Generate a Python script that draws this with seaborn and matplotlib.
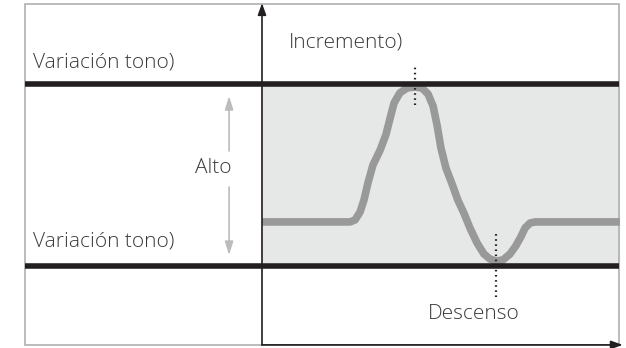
import numpy as np
import pandas as pd
import seaborn as sns
import matplotlib.pyplot as plt
from matplotlib.patches import Rectangle

# pitch curve (time 0..100, level: low line = 0, high line = 100)
time = [0, 24.6, 26.0, 27.4, 28.5, 29.6, 31.0, 33.0, 34.6, 35.8, 36.9, 38.5, 40.5,
        42.7, 44.7, 46.4, 47.8, 48.9, 50.0, 51.4, 53.1, 54.7, 56.4, 58.1, 60.1,
        62.0, 63.7, 65.4, 67.3, 69.3, 70.9, 72.3, 73.5, 74.9, 76.3, 100]
level = [24.2, 24.2, 25.3, 29.7, 36.3, 45.6, 55.5, 63.7, 72.0, 81.3, 89.6, 95.1, 97.8,
         98.4, 97.8, 94.5, 87.9, 77.5, 64.8, 53.8, 45.1, 36.3, 29.1, 20.9, 12.6,
         6.6, 3.8, 2.7, 3.3, 6.6, 11.0, 15.9, 20.9, 23.6, 24.2, 24.2]
low_line = 0
high_line = 100
peak_time = 42.7
dip_time = 65.4

label_band = "Variación tono)"
label_high = "Alto"
label_up = "Incremento)"
label_down = "Descenso"

df = pd.DataFrame({"time": time, "level": level})

sns.set_style("white")
plt.rcParams['font.family'] = ['Open Sans', 'DejaVu Sans']

fig = plt.figure(figsize=(6.26, 3.48), dpi=100)
ax = fig.add_axes([0, 0, 1, 1])
ax.set_xlim(-73.2, 101.7)
ax.set_ylim(-45.1, 146.2)
ax.axis("off")

x_left, x_right = -66.2, 99.7
y_bot, y_top = -43.4, 144.0

# outer frame
ax.add_patch(Rectangle((x_left, y_bot), x_right - x_left, y_top - y_bot,
                       fill=False, edgecolor="#b0b0b0", lw=1.2, zorder=1))

# shaded band
ax.fill_between([0, x_right], low_line, high_line, color="#e6e7e7", zorder=0)

# pitch curve
sns.lineplot(data=df, x="time", y="level", ax=ax, sort=False, estimator=None,
             color="#999999", lw=5.5, zorder=3)
ax.lines[-1].set_solid_joinstyle("round")
ax.lines[-1].set_solid_capstyle("butt")

# threshold lines
for yv in (low_line, high_line):
    ax.plot([x_left, x_right], [yv, yv], color="#231f20", lw=4, zorder=4,
            solid_capstyle="butt")

# axes arrows
ax.annotate("", xy=(0, y_top + 0.5), xytext=(0, y_bot),
            arrowprops=dict(arrowstyle="-|>,head_length=0.7,head_width=0.25",
                            color="#231f20", lw=1.2, shrinkA=0, shrinkB=0), zorder=5)
ax.annotate("", xy=(100.8, y_bot), xytext=(0, y_bot),
            arrowprops=dict(arrowstyle="-|>,head_length=0.7,head_width=0.25",
                            color="#231f20", lw=1.2, shrinkA=0, shrinkB=0), zorder=5)

# dotted markers
ax.plot([peak_time, peak_time], [88.5, 110.4], color="#231f20", lw=1.6,
        linestyle=(0, (0.7, 1.6)), zorder=6)
ax.plot([dip_time, dip_time], [-17.0, 18.1], color="#231f20", lw=1.6,
        linestyle=(0, (0.7, 1.6)), zorder=6)

# height arrows
ax.annotate("", xy=(-9.2, 93.4), xytext=(-9.2, 63.2),
            arrowprops=dict(arrowstyle="-|>,head_length=0.8,head_width=0.25",
                            color="#bcbcbc", lw=1.2, shrinkA=0, shrinkB=0))
ax.annotate("", xy=(-9.2, 6.0), xytext=(-9.2, 43.4),
            arrowprops=dict(arrowstyle="-|>,head_length=0.8,head_width=0.25",
                            color="#bcbcbc", lw=1.2, shrinkA=0, shrinkB=0))

txt = dict(color="#3a3a3a", fontsize=15, fontweight="light")
ax.text(x_left + 2.2, 112.0, label_band, ha="left", va="center", **txt)
ax.text(x_left + 2.2, 13.2, label_band, ha="left", va="center", **txt)
ax.text(-13.7, 54.0, label_high, ha="center", va="center", **txt)
ax.text(7.5, 123.0, label_up, ha="left", va="center", **txt)
ax.text(59.2, -26.4, label_down, ha="center", va="center", **txt)

fig.savefig("out.png", dpi=100)
